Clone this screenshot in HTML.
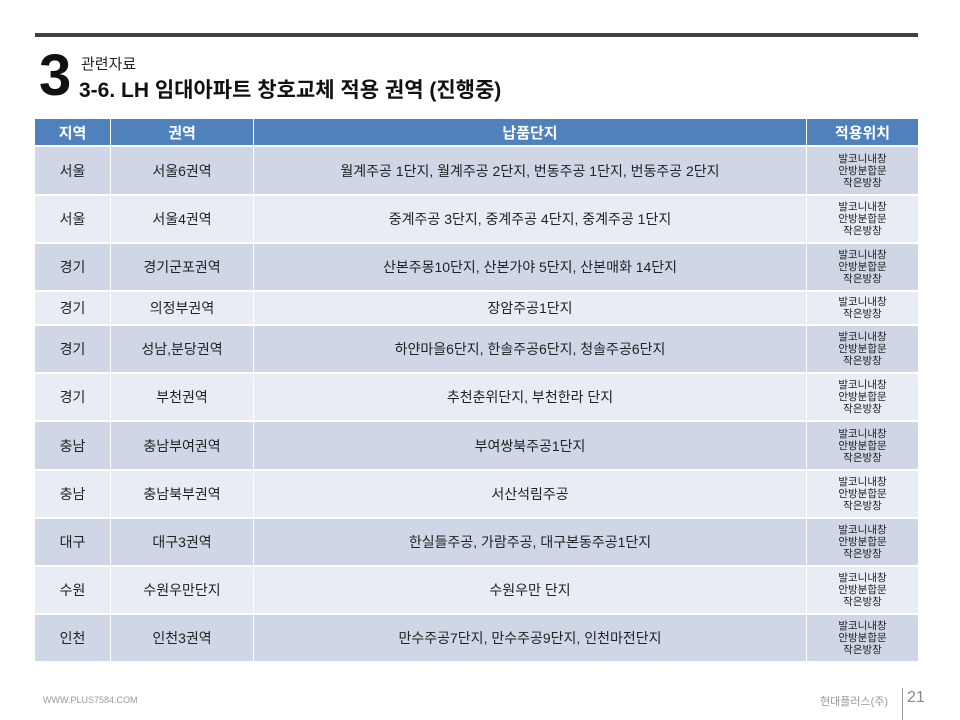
<!DOCTYPE html>
<html><head><meta charset="utf-8"><style>
body{margin:0;width:960px;height:720px;background:#fff;position:relative;overflow:hidden;font-family:"Liberation Sans","Noto Sans CJK KR",sans-serif;color:#222}
.a{position:absolute}
table{position:absolute;left:34px;top:119px;width:884px;border-collapse:collapse;table-layout:fixed}
td,th{text-align:center;padding:0;border-left:1px solid #fff;border-right:1px solid #fff;border-bottom:2px solid #fff;font-size:14px;font-weight:normal}
th{background:#4f81bd;color:#fff;height:26px;font-size:15px;font-weight:bold}
tr.d td{background:#cfd7e6}
tr.l td{background:#e8ecf4}
td.s{font-size:10.5px;line-height:12px}
</style></head><body>
<div class="a" style="left:35px;top:33px;width:883px;height:4px;background:#404040"></div>
<div class="a" style="left:39px;top:44px;font-size:58px;font-weight:bold;line-height:64px;color:#111">3</div>
<div class="a" style="left:81px;top:53px;font-size:15px;color:#222">관련자료</div>
<div class="a" style="left:79px;top:74px;font-size:21px;font-weight:bold;color:#111">3-6. LH 임대아파트 창호교체 적용 권역 (진행중)</div>
<table>
<colgroup><col style="width:76px"><col style="width:143px"><col style="width:553px"><col style="width:112px"></colgroup>
<tr><th>지역</th><th>권역</th><th>납품단지</th><th>적용위치</th></tr>
<tr class="d" style="height:49px"><td>서울</td><td>서울6권역</td><td>월계주공 1단지, 월계주공 2단지, 번동주공 1단지, 번동주공 2단지</td><td class="s">발코니내창<br>안방분합문<br>작은방창</td></tr>
<tr class="l" style="height:48px"><td>서울</td><td>서울4권역</td><td>중계주공 3단지, 중계주공 4단지, 중계주공 1단지</td><td class="s">발코니내창<br>안방분합문<br>작은방창</td></tr>
<tr class="d" style="height:48px"><td>경기</td><td>경기군포권역</td><td>산본주몽10단지, 산본가야 5단지, 산본매화 14단지</td><td class="s">발코니내창<br>안방분합문<br>작은방창</td></tr>
<tr class="l" style="height:34px"><td>경기</td><td>의정부권역</td><td>장암주공1단지</td><td class="s">발코니내창<br>작은방창</td></tr>
<tr class="d" style="height:48px"><td>경기</td><td>성남,분당권역</td><td>하얀마을6단지, 한솔주공6단지, 청솔주공6단지</td><td class="s">발코니내창<br>안방분합문<br>작은방창</td></tr>
<tr class="l" style="height:48px"><td>경기</td><td>부천권역</td><td>추천춘위단지, 부천한라 단지</td><td class="s">발코니내창<br>안방분합문<br>작은방창</td></tr>
<tr class="d" style="height:49px"><td>충남</td><td>충남부여권역</td><td>부여쌍북주공1단지</td><td class="s">발코니내창<br>안방분합문<br>작은방창</td></tr>
<tr class="l" style="height:48px"><td>충남</td><td>충남북부권역</td><td>서산석림주공</td><td class="s">발코니내창<br>안방분합문<br>작은방창</td></tr>
<tr class="d" style="height:48px"><td>대구</td><td>대구3권역</td><td>한실들주공, 가람주공, 대구본동주공1단지</td><td class="s">발코니내창<br>안방분합문<br>작은방창</td></tr>
<tr class="l" style="height:48px"><td>수원</td><td>수원우만단지</td><td>수원우만 단지</td><td class="s">발코니내창<br>안방분합문<br>작은방창</td></tr>
<tr class="d" style="height:48px"><td>인천</td><td>인천3권역</td><td>만수주공7단지, 만수주공9단지, 인천마전단지</td><td class="s">발코니내창<br>안방분합문<br>작은방창</td></tr>
</table>
<div class="a" style="left:43px;top:695px;font-size:9px;color:#999">WWW.PLUS7584.COM</div>
<div class="a" style="left:820px;top:693px;font-size:11px;color:#999">현대플러스(주)</div>
<div class="a" style="left:902px;top:688px;width:1px;height:32px;background:#999"></div>
<div class="a" style="left:907px;top:689px;font-size:16px;color:#888">21</div>
</body></html>
